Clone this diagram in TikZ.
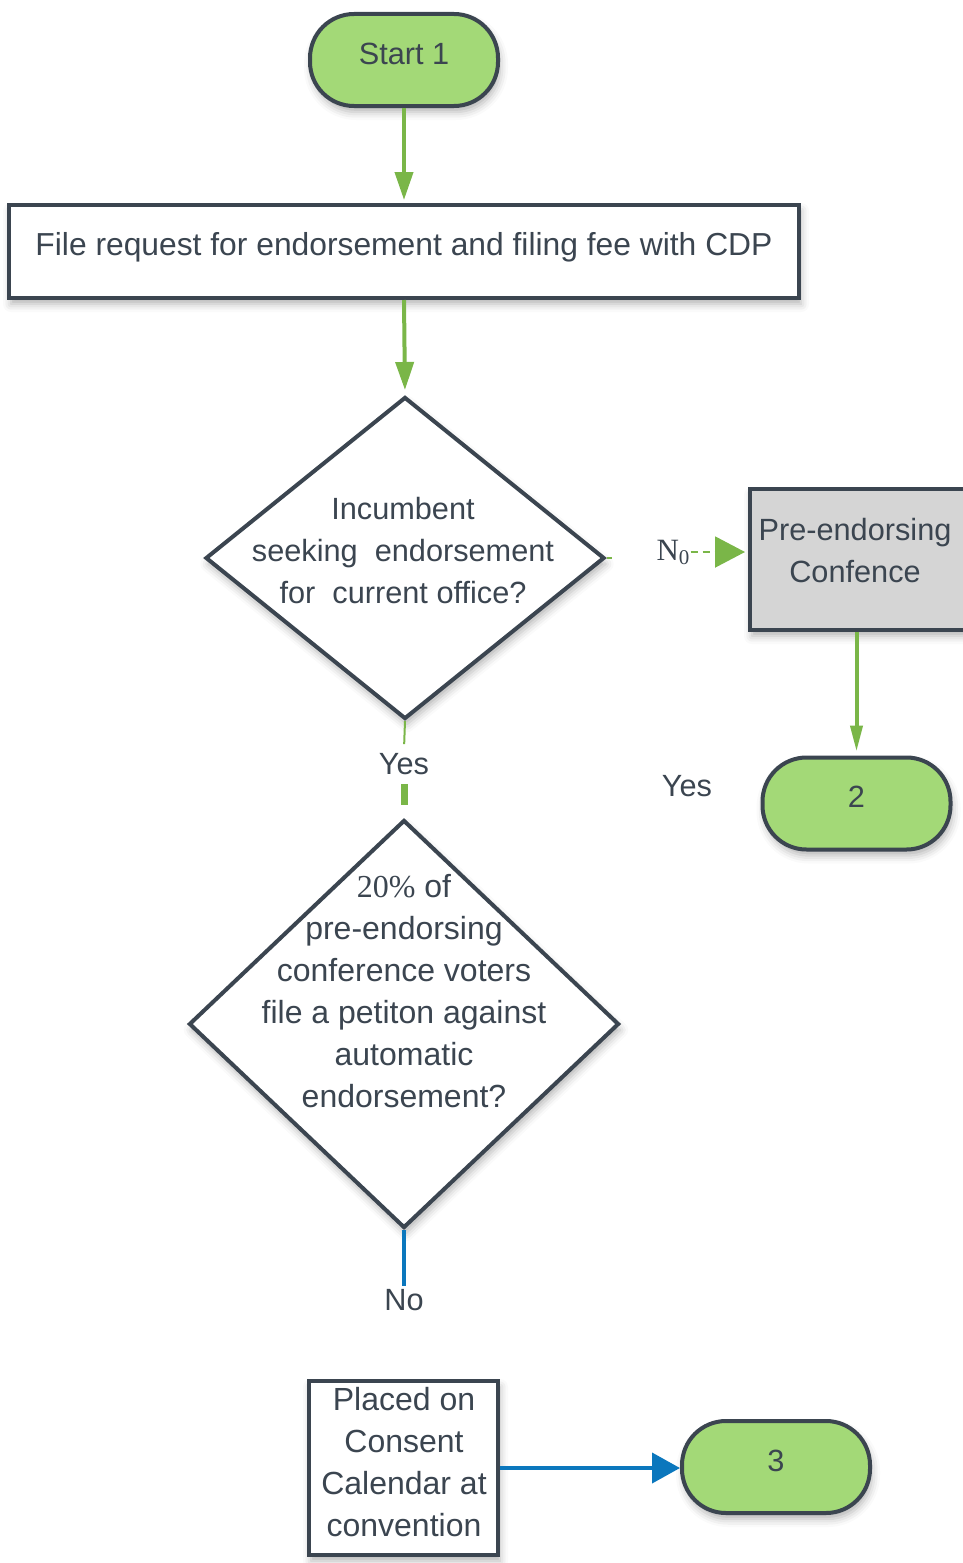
\documentclass[tikz,border=0pt]{standalone}
\usepackage{fontspec}
\setmainfont{Liberation Sans}
\newfontfamily\serifface{Liberation Serif}
\usetikzlibrary{arrows.meta,shapes.geometric,shadows.blur}

\definecolor{ink}{HTML}{3B4550}
\definecolor{pillgreen}{HTML}{A3D977}
\definecolor{flowgreen}{HTML}{7AB648}
\definecolor{flowblue}{HTML}{0B77BD}
\definecolor{panelgrey}{HTML}{D5D5D5}

\begin{document}
\begin{tikzpicture}[x=1pt,y=-1pt,
  every node/.style={text=ink, font=\fontsize{30.7}{42}\selectfont},
  bigtext/.style={font=\fontsize{32}{42}\selectfont},
  soft/.style={blur shadow={shadow xshift=2pt, shadow yshift=-6pt,
      shadow blur radius=8pt, shadow opacity=30}},
  shapebase/.style={draw=ink, line width=4pt, inner sep=0pt, soft},
  pill/.style={shapebase, fill=pillgreen, rounded corners=44pt,
      minimum width=188pt, minimum height=92pt,
      text height=22pt, text depth=14pt},
  plainbox/.style={shapebase, fill=white, rectangle},
  decision/.style={shapebase, fill=white, diamond},
  label/.style={inner sep=3pt, align=center},
  gline/.style={draw=flowgreen, line width=4pt},
  bline/.style={draw=flowblue, line width=4pt},
]
\useasboundingbox (0,0) rectangle (963,1563);

% ---- shapes ----
\node[pill] (start) at (404,60) {Start 1};

\node[plainbox, minimum width=790pt, minimum height=93pt,
      text height=22pt, text depth=14pt] (request) at (404,251.5)
  {\fontsize{31.8}{42}\selectfont File request for endorsement and filing fee with CDP};

\node[decision, minimum width=399pt, minimum height=322pt] (incumbent) at (405,558) {};
\node[label] (incumbenttext) at (403,551)
  {Incumbent\\seeking\ \ endorsement\\for\ \ current office?};

\node[plainbox, fill=panelgrey, minimum width=216pt, minimum height=141pt]
  (preconf) at (858,559.5) {};
\node[label] (preconftext) at (855,551) {Pre-endorsing\\Confence};

\node[pill] (two) at (856.5,803.5) {2};
\node[label] (yesside) at (687,786) {Yes};

\node[decision, minimum width=430pt, minimum height=408pt] (petition) at (404,1024) {};
\node[label, bigtext] (petitiontext) at (404,991)
  {{\serifface 20\%} of\\pre-endorsing\\conference voters\\file a petiton against\\automatic\\endorsement?};

\node[plainbox, minimum width=189pt, minimum height=174pt] (consent) at (403.5,1468) {};
\node[label, bigtext] (consenttext) at (404,1462)
  {Placed on\\Consent\\Calendar at\\convention};

\node[pill] (three) at (776,1467) {3};

% ---- labels on connectors ----
\node[label, inner sep=4pt] (yes) at (404,764) {Yes};
\node[label, inner sep=1pt] (no) at (673,552)
  {\serifface\fontsize{31}{31}\selectfont N\raisebox{-4pt}{\fontsize{21}{21}\selectfont 0}};
\node[label] (nobottom) at (404,1300) {No};

% ---- connectors ----
\draw[gline, -{Triangle[width=18pt,length=28pt]}, shorten >=3pt]
  (start.south) -- (request.north);
\draw[gline, -{Triangle[width=18pt,length=28pt]}, shorten >=5pt]
  (request.south) -- (incumbent.north);

\coordinate (nostub) at (612,558);
\draw[draw=flowgreen, line width=2pt] (incumbent.east) -- (nostub);
\draw[draw=flowgreen, line width=2pt, dash pattern=on 7pt off 5pt,
      -{Triangle[width=31pt,length=30pt]}, shorten >=3pt]
  (no.east) -- (no.east -| preconf.west);

\draw[gline, -{Triangle[width=12pt,length=26pt]}, shorten >=4pt]
  (two.north |- preconf.south) -- (two.north);

\draw[draw=flowgreen, line width=2pt, shorten >=5pt] (incumbent.south) -- (yes.north);
\draw[draw=flowgreen, line width=7pt, shorten <=5pt, shorten >=13pt]
  (yes.south) -- (petition.north);

\draw[bline] (petition.south) -- (nobottom.north);

\draw[bline, -{Triangle[width=30pt,length=28pt]}]
  (consent.east) -- (consent.east -| three.west);
\end{tikzpicture}
\end{document}
